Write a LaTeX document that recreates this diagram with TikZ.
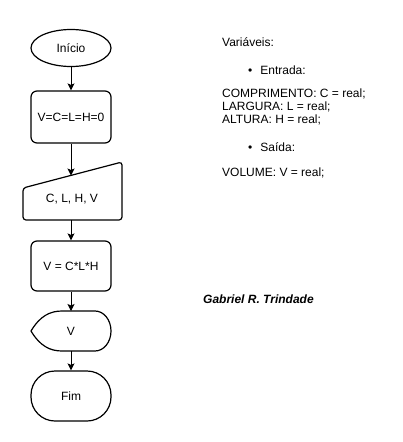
\documentclass[tikz,border=0pt]{standalone}
\usepackage{fontspec}
\setmainfont{Liberation Sans}
\usetikzlibrary{shapes.geometric,arrows.meta}
\begin{document}
\begin{tikzpicture}[x=1pt,y=-1pt,
  shp/.style={draw=black,line width=1.2pt,fill=white},
  lbl/.style={font=\fontsize{12}{14}\selectfont,inner sep=0pt},
  txt/.style={font=\fontsize{12}{14}\selectfont,inner sep=0pt,anchor=base west},
  conn/.style={line width=1pt,-{Stealth[length=7pt,width=7pt,inset=1.5pt]}}]
\useasboundingbox (0,0) rectangle (402,442);
\fill[white] (0,0) rectangle (402,442);
% start
\node[shp,ellipse,minimum width=80pt,minimum height=37pt,lbl] (ini) at (71,48) {Início};
% init box
\node[shp,rectangle,rounded corners=6pt,minimum width=80pt,minimum height=52pt,lbl] (r1) at (71,117) {V=C=L=H=0};
% manual input
\draw[shp,rounded corners=3pt] (23,188) -- (122,162) -- (122,220) -- (23,220) -- cycle;
\node[lbl] (inp) at (72,199) {C, L, H, V};
\coordinate (inptop) at (71,175.5);
\coordinate (inpbot) at (71,220);
% compute box
\node[shp,rectangle,rounded corners=6pt,minimum width=80pt,minimum height=50pt,lbl] (r2) at (71,266) {V = C*L*H};
% display
\draw[shp] (31,331) .. controls (40,316) and (50,311) .. (62,311) -- (95,311)
  arc[start angle=-90,end angle=90,x radius=16,y radius=20] -- (62,351)
  .. controls (50,351) and (40,346) .. (31,331) -- cycle;
\node[lbl] (disp) at (71,331) {V};
\coordinate (disptop) at (71,311);
\coordinate (dispbot) at (71,351);
% end
\node[shp,rectangle,rounded corners=24pt,minimum width=80pt,minimum height=50pt,lbl] (fim) at (71,396) {Fim};
% connectors
\draw[conn] (ini.south) -- (r1.north);
\draw[conn] (r1.south) -- (inptop);
\draw[conn] (inpbot) -- (r2.north);
\draw[conn] (r2.south) -- (disptop);
\draw[conn] (dispbot) -- (fim.north);
% text block
\node[txt] (t1) at (222,46) {Variáveis:};
\node[txt] (t2) at (248,74) {\textbullet\hspace{8pt}Entrada:};
\node[txt] (t3) at (222,97) {COMPRIMENTO: C = real;};
\node[txt] (t4) at (222,110) {LARGURA: L = real;};
\node[txt] (t5) at (222,123) {ALTURA: H = real;};
\node[txt] (t6) at (248,151) {\textbullet\hspace{8pt}Saída:};
\node[txt] (t7) at (222,176) {VOLUME: V = real;};
\node[txt,font=\fontsize{12}{14}\selectfont\bfseries\itshape] (auth) at (203,303) {Gabriel R. Trindade};
\end{tikzpicture}
\end{document}
